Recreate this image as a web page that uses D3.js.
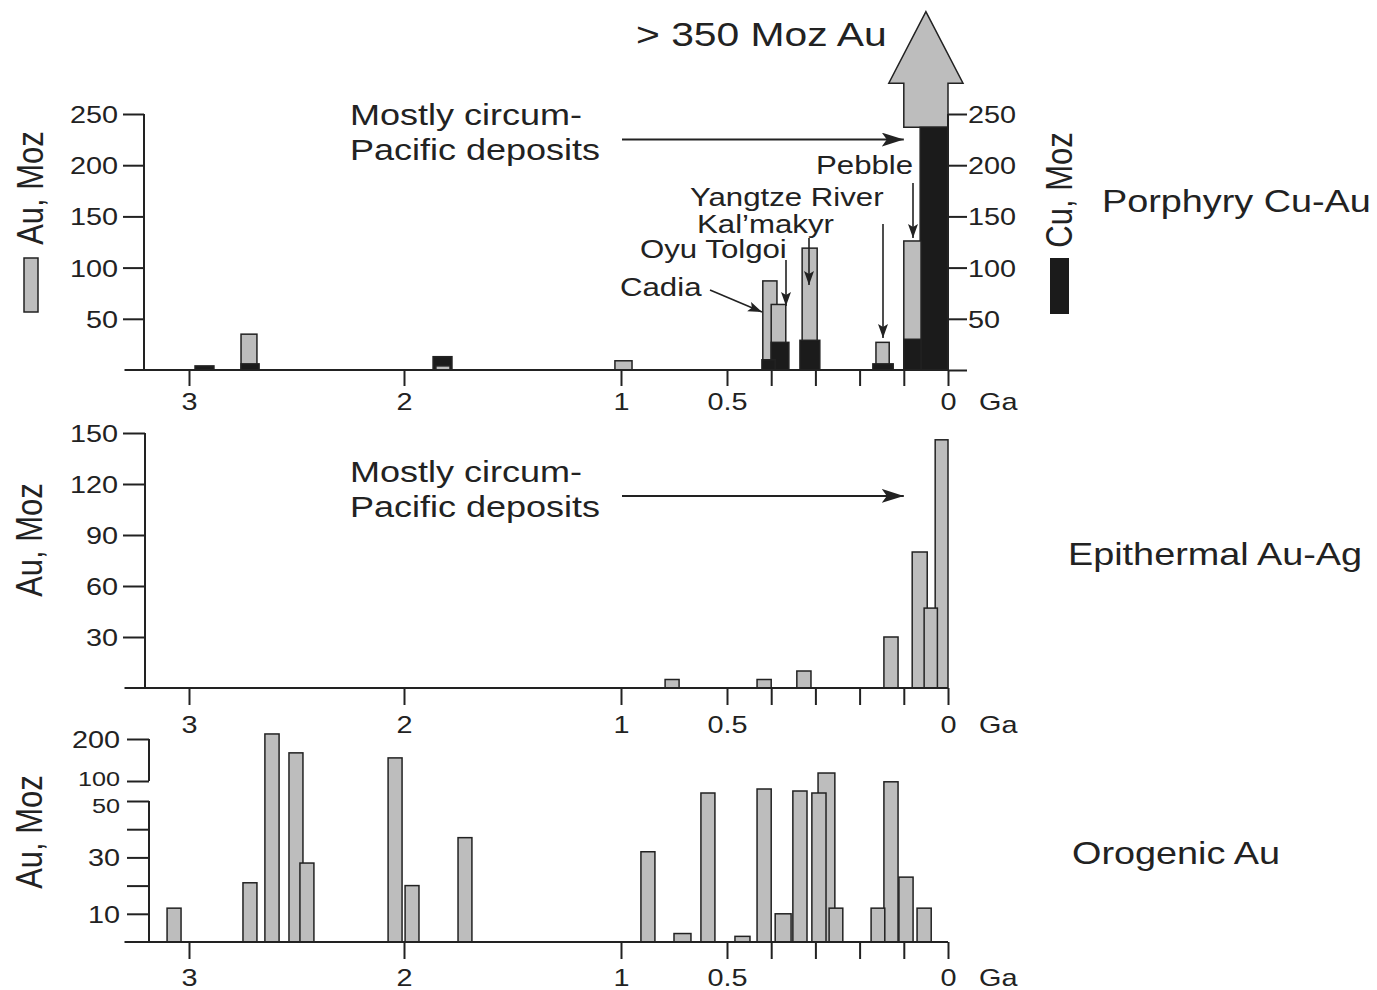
<!DOCTYPE html>
<html><head><meta charset="utf-8">
<script src="https://cdn.jsdelivr.net/npm/d3@7"></script>
<style>body{margin:0;background:#fff} svg{display:block}</style>
</head><body>
<svg id="chart" width="1377" height="990"></svg>
<script>
// ---------------- data ----------------
const ageTickValues = [3, 2, 1, 0.5, 0.4, 0.3, 0.2, 0.1, 0];
const ageTickLabels = ["3", "2", "1", "0.5", "", "", "", "", "0"];

// Porphyry Cu-Au : Au (grey) bins, age range in Ga and Moz Au
const porphyryAuFrom = [2.758, 1.853, 1.028, 0.419, 0.400, 0.330, 0.163, 0.100];
const porphyryAuTo   = [2.684, 1.788, 0.948, 0.387, 0.367, 0.296, 0.133, 0.061];
const porphyryAu     = [35, 4, 9, 87, 64, 119, 27, 126];
// Porphyry Cu-Au : Cu (black) bins
const porphyryCuFrom = [2.972, 2.758, 1.866, 0.421, 0.400, 0.335, 0.170, 0.100, 0.063];
const porphyryCuTo   = [2.884, 2.674, 1.779, 0.391, 0.360, 0.290, 0.124, 0.061, 0];
const porphyryCu     = [4, 6, 13, 10, 27, 29, 6, 30, 237];
// off-scale Au bin (> 350 Moz): [from Ga, to Ga, value]
const porphyryAuOffScale = [0.100, 0, 350];
const porphyryTicks = [50, 100, 150, 200, 250];
const porphyryCuTicks = [0, 50, 100, 150, 200, 250];

// Epithermal Au-Ag
const epithermalFrom = [0.792, 0.432, 0.342, 0.145, 0.081, 0.054, 0.029];
const epithermalTo   = [0.726, 0.400, 0.310, 0.113, 0.047, 0.024, 0];
const epithermalAu   = [5, 5, 10, 30, 80, 47, 146];
const epithermalTicks = [30, 60, 90, 120, 150];

// Orogenic Au
const orogenicFrom = [3.102, 2.749, 2.647, 2.535, 2.484, 2.074, 1.995, 1.751, 0.906, 0.750, 0.623, 0.482, 0.432, 0.391, 0.351, 0.308, 0.294, 0.269, 0.174, 0.145, 0.111, 0.070];
const orogenicTo   = [3.037, 2.684, 2.581, 2.470, 2.419, 2.009, 1.931, 1.687, 0.840, 0.670, 0.557, 0.448, 0.400, 0.355, 0.319, 0.276, 0.256, 0.238, 0.143, 0.113, 0.079, 0.038];
const orogenicAu   = [12, 21, 212, 167, 28, 155, 20, 37, 32, 3, 70, 2, 80, 10, 75, 70, 119, 12, 12, 98, 23, 12];
const orogenicTicks = [10, 20, 30, 40, 50, 100, 200];
const orogenicTickLabels = ["10", "", "30", "", "50", "100", "200"];

const panelNames = ["Porphyry Cu-Au", "Epithermal Au-Ag", "Orogenic Au"];
const depositNames = ["Cadia", "Oyu Tolgoi", "Kal\u2019makyr", "Yangtze River", "Pebble"];

// ---------------- style ----------------
const FONT = "'Liberation Sans', Arial, Helvetica, sans-serif";
const INK = "#222";
const GREY = "#bdbdbd";
const BLACK = "#1b1b1b";
const SX = 1.2;   // horizontal stretch of the lettering
const TICK_FONT = 24;

const svg = d3.select("#chart");
svg.append("rect").attr("width", 1377).attr("height", 990).attr("fill", "#fff");

const defs = svg.append("defs");
defs.append("marker").attr("id", "bigHead").attr("markerUnits", "userSpaceOnUse")
  .attr("markerWidth", 24).attr("markerHeight", 16).attr("refX", 22).attr("refY", 7)
  .attr("orient", "auto")
  .append("path").attr("d", "M0,0 L22,7 L0,14 L5,7 Z").attr("fill", INK);
defs.append("marker").attr("id", "smallHead").attr("markerUnits", "userSpaceOnUse")
  .attr("markerWidth", 16).attr("markerHeight", 12).attr("refX", 14).attr("refY", 5)
  .attr("orient", "auto")
  .append("path").attr("d", "M0,0 L14,5 L0,10 L3,5 Z").attr("fill", INK);

// ---------------- scales ----------------
const x = d3.scaleLinear().domain([3, 2, 1, 0.5, 0]).range([189, 404, 621, 727, 948]);
const yTop = d3.scaleLinear().domain([0, 250]).range([370, 114]);
const yMid = d3.scaleLinear().domain([0, 150]).range([688, 433]);
const yBot = d3.scaleLinear().domain([0, 50, 100, 200]).range([942, 801, 781, 739]);

// ---------------- helpers ----------------
function label(str, px, py, size, anchor = "start", rotate = false) {
  const t = svg.append("text")
    .attr("transform", `translate(${px},${py}) scale(${SX},1)` + (rotate ? " rotate(-90)" : ""))
    .attr("text-anchor", anchor)
    .attr("font-family", FONT).attr("font-size", size).attr("fill", INK)
    .text(str);
  if (rotate) t.attr("dy", "0.35em");
  return t;
}
function line(x1, y1, x2, y2, w = 2, marker = null) {
  const l = svg.append("line").attr("x1", x1).attr("y1", y1).attr("x2", x2).attr("y2", y2)
    .attr("stroke", INK).attr("stroke-width", w);
  if (marker) l.attr("marker-end", `url(#${marker})`);
  return l;
}
function rows(from, to, vals, fill) {
  return vals.map((v, i) => ({ from: from[i], to: to[i], value: v, fill }));
}
function drawBars(data, y) {
  const sorted = data.slice().sort((a, b) => b.value - a.value);
  svg.append("g").selectAll("rect").data(sorted).join("rect")
    .attr("x", d => x(d.from))
    .attr("width", d => x(d.to) - x(d.from))
    .attr("y", d => y(d.value))
    .attr("height", d => y(0) - y(d.value))
    .attr("fill", d => d.fill)
    .attr("stroke", INK).attr("stroke-width", 1.5);
}
function styleAxis(g) {
  g.attr("font-family", FONT).attr("font-size", TICK_FONT).attr("color", INK);
  g.select(".domain").remove();
  g.selectAll(".tick line").attr("stroke-width", 2);
}
function xAxis(y0, tickLen, labelBase) {
  const g = svg.append("g").attr("transform", `translate(0,${y0})`);
  g.call(d3.axisBottom(x).tickValues(ageTickValues)
    .tickFormat((d, i) => ageTickLabels[i]).tickSize(tickLen).tickSizeOuter(0));
  styleAxis(g);
  g.selectAll(".tick text").attr("y", 0).attr("dy", null).attr("fill", INK)
    .attr("transform", `translate(0,${labelBase}) scale(${SX},1)`);
  line(x(3.3), y0, x(0), y0, 2);
  label("Ga", 979, y0 + labelBase, TICK_FONT, "start");
}
function yAxisLeft(y, ticks, fmt, ax, tickLen, gap, domainSegs, nudge = () => 0, size = () => TICK_FONT) {
  const g = svg.append("g").attr("transform", `translate(${ax},0)`);
  g.call(d3.axisLeft(y).tickValues(ticks).tickFormat(fmt).tickSize(tickLen).tickSizeOuter(0));
  styleAxis(g);
  g.selectAll(".tick text").attr("x", -gap / SX).attr("dy", "0.35em").attr("fill", INK)
    .attr("y", d => nudge(d)).attr("font-size", d => size(d))
    .attr("transform", `scale(${SX},1)`);
  domainSegs.forEach(s => line(ax, y(s[0]), ax, y(s[1]), 2));
}

// ================= Panel 1: Porphyry Cu-Au =================
// off-scale Au arrow
{
  const [f, t, v] = porphyryAuOffScale;
  const xl = x(f), xr = x(t), cx = (xl + xr) / 2, half = (xr - xl) / 2 + 15;
  const yb = yTop(porphyryCu[porphyryCu.length - 1]);
  const yh = yTop(280), tip = yTop(v);
  svg.append("path")
    .attr("d", `M${xl},${yb} L${xl},${yh} L${cx - half},${yh} L${cx},${tip} L${cx + half},${yh} L${xr},${yh} L${xr},${yb} Z`)
    .attr("fill", GREY).attr("stroke", INK).attr("stroke-width", 1.5);
}
drawBars(rows(porphyryAuFrom, porphyryAuTo, porphyryAu, GREY)
  .concat(rows(porphyryCuFrom, porphyryCuTo, porphyryCu, BLACK)), yTop);

yAxisLeft(yTop, porphyryTicks, d => d, 144, 21, 26, [[0, 250]]);
// right Cu axis
{
  const g = svg.append("g").attr("transform", `translate(${x(0)},0)`);
  g.call(d3.axisRight(yTop).tickValues(porphyryCuTicks).tickFormat(d => d === 0 ? "" : d)
    .tickSize(19).tickSizeOuter(0));
  styleAxis(g);
  g.selectAll(".tick text").attr("x", 20 / SX).attr("dy", "0.35em").attr("fill", INK)
    .attr("transform", `scale(${SX},1)`);
  line(x(0), yTop(0), x(0), yTop(250), 2);
}
xAxis(yTop(0), 16, 40);

// axis titles and legend swatches
label("Au, Moz", 30, 188, 31, "middle", true);
svg.append("rect").attr("x", 24).attr("y", 258).attr("width", 14).attr("height", 54)
  .attr("fill", GREY).attr("stroke", INK).attr("stroke-width", 1.5);
label("Cu, Moz", 1059, 190, 31, "middle", true);
svg.append("rect").attr("x", 1050).attr("y", 258).attr("width", 19).attr("height", 56)
  .attr("fill", BLACK);

// annotations
label("> 350 Moz Au", 636, 46, 34);
label("Mostly circum-", 350, 125, 30);
label("Pacific deposits", 350, 160, 30);
line(622, yTop(225), x(0.1), yTop(225), 2, "bigHead");

label(depositNames[4], 816, 174, 26);
label(depositNames[3], 690, 206, 26);
label(depositNames[2], 697, 233, 26);
label(depositNames[1], 640, 258, 26);
label(depositNames[0], 620, 296, 26);
line(710, 290, 762, 312, 1.6, "smallHead");
line(786, 260, 786, 306, 1.6, "smallHead");
line(809, 238, 809, 285, 1.6, "smallHead");
line(883, 224, 883, 338, 1.6, "smallHead");
line(913, 183, 913, 238, 1.6, "smallHead");

label(panelNames[0], 1102, 212, 31.5);

// ================= Panel 2: Epithermal Au-Ag =================
drawBars(rows(epithermalFrom, epithermalTo, epithermalAu, GREY), yMid);
yAxisLeft(yMid, epithermalTicks, d => d, 145, 22, 27, [[0, 150]]);
xAxis(yMid(0), 17, 44.5);
label("Au, Moz", 29, 540, 31, "middle", true);
label("Mostly circum-", 350, 482, 30);
label("Pacific deposits", 350, 517, 30);
line(622, yMid(113), x(0.1), yMid(113), 2, "bigHead");
label(panelNames[1], 1068, 565, 31.5);

// ================= Panel 3: Orogenic Au =================
drawBars(rows(orogenicFrom, orogenicTo, orogenicAu, GREY), yBot);
yAxisLeft(yBot, orogenicTicks, (d, i) => orogenicTickLabels[i], 149, 22, 29, [[0, 50], [100, 200]],
  d => (d === 50 ? 4 : d === 100 ? -3 : 0),
  d => (d === 50 || d === 100 ? 21 : TICK_FONT));
xAxis(yBot(0), 17, 43.5);
label("Au, Moz", 29, 832, 31, "middle", true);
label(panelNames[2], 1072, 864, 31.5);
</script>
</body></html>
